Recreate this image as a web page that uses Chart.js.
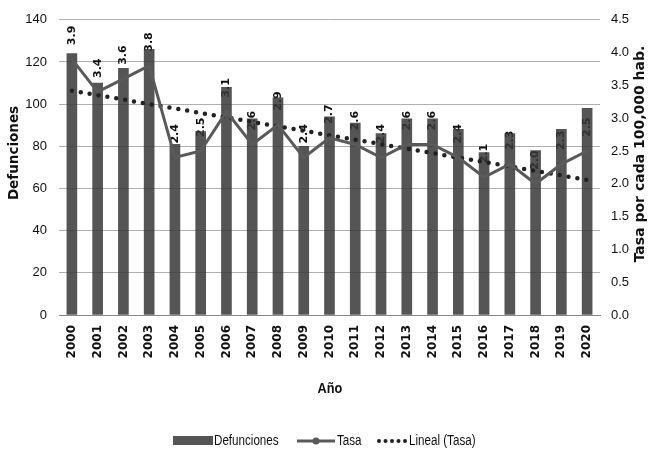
<!DOCTYPE html>
<html>
<head>
<meta charset="utf-8">
<script src="https://cdn.jsdelivr.net/npm/chart.js@4/dist/chart.umd.min.js"></script>
<style>
  html, body { margin: 0; padding: 0; background: #fff; }
  #wrap { width: 650px; height: 456px; position: relative; }
</style>
</head>
<body>
<div id="wrap"><canvas id="chart" width="650" height="456"></canvas></div>
<script>
//// DEFUNCIONES Y TASA POR AÑO

const years = ['2000', '2001', '2002', '2003', '2004', '2005', '2006', '2007', '2008', '2009', '2010',
               '2011', '2012', '2013', '2014', '2015', '2016', '2017', '2018', '2019', '2020'];
const defunciones = [124, 110, 117, 126, 81, 87, 108, 93, 103, 80, 94,
                     91, 86, 93, 93, 88, 77, 86, 78, 88, 98];
const tasa = [3.9, 3.4, 3.6, 3.8, 2.4, 2.5, 3.1, 2.6, 2.9, 2.4, 2.7,
              2.6, 2.4, 2.6, 2.6, 2.4, 2.1, 2.3, 2.0, 2.3, 2.5];
// trend line end points (2000 and 2020), straight line between them
const tendencia = [3.42, null, null, null, null, null, null, null, null, null, null,
                   null, null, null, null, null, null, null, null, null, 2.06];
const leftTicks = [0, 20, 40, 60, 80, 100, 120, 140];
const rightTicks = [0, 0.5, 1, 1.5, 2, 2.5, 3, 3.5, 4, 4.5];

const sans = "'Liberation Sans', Arial, sans-serif";
const bold = "'DejaVu Sans', Verdana, sans-serif";

// narrow text: draw squeezed horizontally
function narrowText(ctx, text, x, y, squeeze) {
    ctx.save();
    ctx.translate(x, y);
    ctx.scale(squeeze, 1);
    ctx.fillText(text, 0, 0);
    ctx.restore();
}

// value labels of the rate, drawn before the bars so the bars cover them
const rateLabels = {
    id: 'rateLabels',
    beforeDatasetsDraw(chart) {
        const ctx = chart.ctx;
        const meta = chart.getDatasetMeta(1);
        ctx.save();
        ctx.font = 'bold 11px ' + bold;
        ctx.fillStyle = '#111';
        ctx.textAlign = 'left';
        ctx.textBaseline = 'middle';
        meta.data.forEach((pt, i) => {
            ctx.save();
            ctx.translate(pt.x, pt.y - 14);
            ctx.rotate(-Math.PI / 2);
            ctx.fillText(tasa[i].toFixed(1), 0, 0);
            ctx.restore();
        });
        ctx.restore();
    }
};

// axis titles and legend
const extras = {
    id: 'extras',
    afterDraw(chart) {
        const ctx = chart.ctx;
        ctx.save();
        ctx.fillStyle = '#111';
        ctx.textAlign = 'center';
        ctx.textBaseline = 'middle';

        ctx.save();
        ctx.translate(14, 153);
        ctx.rotate(-Math.PI / 2);
        ctx.font = 'bold 13.5px ' + bold;
        ctx.fillText('Defunciones', 0, 0);
        ctx.restore();

        ctx.save();
        ctx.translate(640, 154);
        ctx.rotate(-Math.PI / 2);
        ctx.font = 'bold 14px ' + bold;
        ctx.fillText('Tasa por cada 100,000 hab.', 0, 0);
        ctx.restore();

        ctx.font = 'bold 15px ' + sans;
        narrowText(ctx, 'Año', 330, 389, 0.85);

        // legend
        const ly = 441;
        ctx.font = '14px ' + sans;
        ctx.textAlign = 'left';
        ctx.fillStyle = 'rgb(85,85,85)';
        ctx.fillRect(173, ly - 5, 40, 9);
        ctx.fillStyle = '#111';
        narrowText(ctx, 'Defunciones', 214, ly, 0.83);

        ctx.strokeStyle = 'rgb(90,90,90)';
        ctx.lineWidth = 3;
        ctx.beginPath();
        ctx.moveTo(297, ly);
        ctx.lineTo(335, ly);
        ctx.stroke();
        ctx.fillStyle = 'rgb(90,90,90)';
        ctx.beginPath();
        ctx.arc(316, ly, 3.5, 0, Math.PI * 2);
        ctx.fill();
        ctx.fillStyle = '#111';
        narrowText(ctx, 'Tasa', 337, ly, 0.83);

        ctx.fillStyle = '#222';
        for (let i = 0; i < 5; i++) {
            ctx.beginPath();
            ctx.arc(379 + i * 6.5, ly, 2, 0, Math.PI * 2);
            ctx.fill();
        }
        ctx.fillStyle = '#111';
        narrowText(ctx, 'Lineal (Tasa)', 409, ly, 0.83);
        ctx.restore();
    }
};

new Chart(document.getElementById('chart'), {
    type: 'bar',
    data: {
        labels: years,
        datasets: [{
            label: 'Defunciones',
            data: defunciones,
            backgroundColor: 'rgba(55,55,55,0.85)',
            barThickness: 10,
            yAxisID: 'y',
            order: 3
        }, {
            type: 'line',
            label: 'Tasa',
            data: tasa,
            borderColor: 'rgb(90,90,90)',
            borderWidth: 3,
            pointRadius: 0,
            tension: 0,
            yAxisID: 'y1',
            order: 1
        }, {
            type: 'line',
            label: 'Lineal (Tasa)',
            data: tendencia,
            borderColor: '#222',
            borderWidth: 4.5,
            borderDash: [0, 9],
            borderCapStyle: 'round',
            pointRadius: 0,
            spanGaps: true,
            yAxisID: 'y1',
            order: 2
        }]
    },
    options: {
        responsive: false,
        animation: false,
        layout: { padding: { top: 19, left: 0, right: 0, bottom: 0 } },
        plugins: {
            legend: { display: false },
            tooltip: { enabled: false }
        },
        scales: {
            x: {
                grid: { display: false, drawTicks: false },
                border: { display: true, color: '#888', width: 1 },
                ticks: {
                    font: { family: bold, size: 12, weight: 'bold' },
                    color: '#111',
                    minRotation: 90,
                    maxRotation: 90,
                    padding: 10
                },
                afterFit(scale) { scale.height = 141; }
            },
            y: {
                position: 'left',
                min: 0,
                max: 140,
                afterBuildTicks(scale) { scale.ticks = leftTicks.map(v => ({ value: v })); },
                grid: { color: '#b0b0b0', lineWidth: 1, drawTicks: false },
                border: { display: false },
                ticks: {
                    font: { family: sans, size: 13 },
                    color: '#111',
                    padding: 12
                },
                afterFit(scale) { scale.width = 59; }
            },
            y1: {
                position: 'right',
                min: 0,
                max: 4.5,
                afterBuildTicks(scale) { scale.ticks = rightTicks.map(v => ({ value: v })); },
                grid: { display: false, drawTicks: false },
                border: { display: false },
                ticks: {
                    font: { family: sans, size: 13 },
                    color: '#111',
                    padding: 11,
                    callback: v => v.toFixed(1)
                },
                afterFit(scale) { scale.width = 50; }
            }
        }
    },
    plugins: [rateLabels, extras]
});
</script>
</body>
</html>
